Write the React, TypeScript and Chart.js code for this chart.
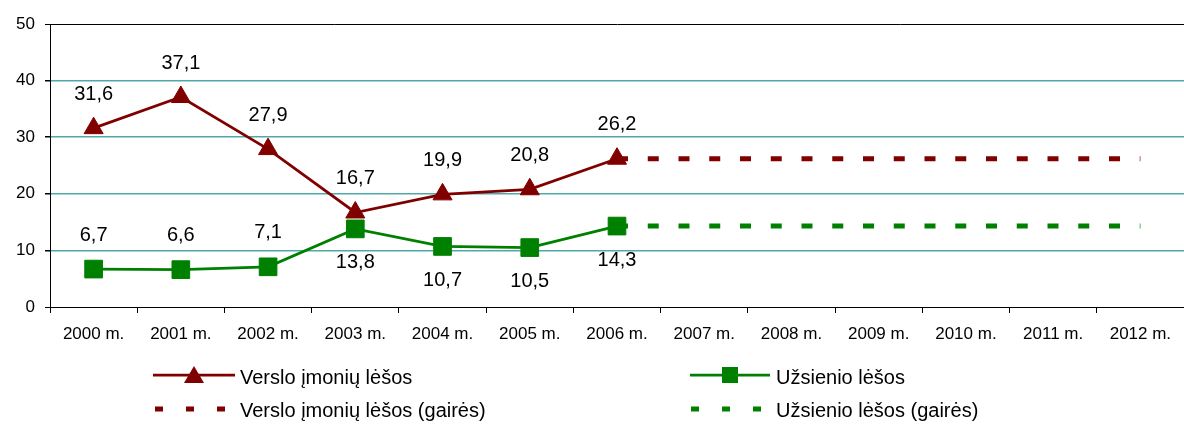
import React, { useEffect, useRef } from "react";
import { Chart, registerables } from "chart.js";

Chart.register(...registerables);

const categories = [
  "2000 m.", "2001 m.", "2002 m.", "2003 m.", "2004 m.", "2005 m.", "2006 m.",
  "2007 m.", "2008 m.", "2009 m.", "2010 m.", "2011 m.", "2012 m.",
];
const versloValues = [31.6, 37.1, 27.9, 16.7, 19.9, 20.8, 26.2, null, null, null, null, null, null];
const uzsienioValues = [6.7, 6.6, 7.1, 13.8, 10.7, 10.5, 14.3, null, null, null, null, null, null];
const versloGaires = [null, null, null, null, null, null, 26.2, 26.2, 26.2, 26.2, 26.2, 26.2, 26.2];
const uzsienioGaires = [null, null, null, null, null, null, 14.3, 14.3, 14.3, 14.3, 14.3, 14.3, 14.3];
const yTickValues = [0, 10, 20, 30, 40, 50];

const seriesNames = [
  "Verslo įmonių lėšos",
  "Užsienio lėšos",
  "Verslo įmonių lėšos (gairės)",
  "Užsienio lėšos (gairės)",
];

const RED = "#800000";
const GREEN = "#008000";
const GRID = "#4fa9a9";
const FONT = "'Liberation Sans', Arial, sans-serif";

const labelPlugin = {
  id: "valueLabels",
  afterDatasetsDraw(chart: any) {
    const ctx = chart.ctx;
    ctx.save();
    ctx.font = `20px ${FONT}`;
    ctx.fillStyle = "#000";
    ctx.textAlign = "center";
    ctx.textBaseline = "middle";
    chart.data.datasets.forEach((ds: any, di: number) => {
      if (!ds.labelPos) return;
      const meta = chart.getDatasetMeta(di);
      meta.data.forEach((el: any, i: number) => {
        const v = ds.data[i];
        if (v == null) return;
        const dy = ds.labelPos[i] === "below" ? 34 : -34;
        ctx.fillText(v.toFixed(1).replace(".", ","), el.x, el.y + dy);
      });
    });
    ctx.restore();
  },
};

const isFrame = (c: any) => c.tick && (c.tick.value === 50 || c.tick.value === 0);

function ChartCanvas() {
  const ref = useRef<HTMLCanvasElement | null>(null);
  useEffect(() => {
    if (!ref.current) return;
    const chart = new Chart(ref.current, {
      type: "line",
      data: {
        labels: categories,
        datasets: [
          {
            label: seriesNames[0],
            data: versloValues,
            borderColor: RED,
            backgroundColor: RED,
            borderWidth: 2.75,
            pointStyle: "triangle",
            pointRadius: 11,
            pointBorderWidth: 1,
            pointBorderColor: RED,
            pointBackgroundColor: RED,
            tension: 0,
            spanGaps: false,
            labelPos: ["above", "above", "above", "above", "above", "above", "above"],
          } as any,
          {
            label: seriesNames[1],
            data: uzsienioValues,
            borderColor: GREEN,
            backgroundColor: GREEN,
            borderWidth: 2.75,
            pointStyle: "rect",
            pointRadius: 12.5,
            pointBorderWidth: 1,
            pointBorderColor: GREEN,
            pointBackgroundColor: GREEN,
            tension: 0,
            labelPos: ["above", "above", "above", "below", "below", "below", "below"],
          } as any,
          {
            label: seriesNames[2],
            data: versloGaires,
            borderColor: RED,
            borderWidth: 5,
            borderDash: [11, 19.75],
            borderCapStyle: "butt",
            pointRadius: 0,
            tension: 0,
          },
          {
            label: seriesNames[3],
            data: uzsienioGaires,
            borderColor: GREEN,
            borderWidth: 5,
            borderDash: [11, 19.75],
            borderCapStyle: "butt",
            pointRadius: 0,
            tension: 0,
          },
        ],
      },
      options: {
        animation: false,
        responsive: false,
        events: [],
        layout: { autoPadding: false, padding: { top: 24, left: 0, right: 0, bottom: 0 } },
        plugins: {
          legend: { display: false },
          tooltip: { enabled: false },
        },
        scales: {
          x: {
            offset: true,
            grid: {
              offset: true,
              drawOnChartArea: false,
              drawTicks: true,
              tickLength: 6,
              tickColor: "#000",
            },
            border: { display: true, color: "#000", width: 1, z: 1 },
            ticks: {
              color: "#000",
              font: { family: FONT, size: 17 },
              padding: 11,
              maxRotation: 0,
              autoSkip: false,
            },
            afterFit(scale: any) {
              scale.height = 43;
              scale.paddingLeft = 0;
              scale.paddingRight = 0;
            },
          },
          y: {
            min: 0,
            max: 50,
            afterBuildTicks(scale: any) {
              scale.ticks = yTickValues.map((v) => ({ value: v }));
            },
            grid: {
              color: (c: any) => (isFrame(c) ? "#000" : GRID),
              lineWidth: (c: any) => (isFrame(c) ? 1 : 1.5),
              drawTicks: true,
              tickLength: 5,
              tickColor: "#000",
            },
            border: { display: true, color: "#000", width: 1 },
            ticks: {
              color: "#000",
              font: { family: FONT, size: 17 },
              padding: 10,
            },
            afterFit(scale: any) {
              scale.width = 50;
            },
          },
        },
      },
      plugins: [labelPlugin],
    });
    return () => chart.destroy();
  }, []);
  return <canvas ref={ref} width={1184} height={350} style={{ display: "block" }} />;
}

const textStyle = (left: number, cy: number): React.CSSProperties => ({
  position: "absolute",
  left,
  top: cy - 12,
  height: 24,
  lineHeight: "24px",
  fontSize: 20,
  fontFamily: FONT,
  color: "#000",
  whiteSpace: "nowrap",
});

export default function App() {
  return (
    <div style={{ position: "absolute", left: 0, top: 0, width: 1184, height: 424, background: "#fff", overflow: "hidden" }}>
      <ChartCanvas />
      <svg width={1184} height={424} style={{ position: "absolute", left: 0, top: 0, pointerEvents: "none" }}>
        <line x1={153} y1={375} x2={235} y2={375} stroke={RED} strokeWidth={2.75} />
        <polygon points="194,366 204,383 184,383" fill={RED} />
        <line x1={690} y1={375} x2={770} y2={375} stroke={GREEN} strokeWidth={2.75} />
        <rect x={722} y={367} width={16} height={16} fill={GREEN} />
        <line x1={155} y1={409} x2={230} y2={409} stroke={RED} strokeWidth={5} strokeDasharray="8 23" />
        <line x1={691} y1={409} x2={766} y2={409} stroke={GREEN} strokeWidth={5} strokeDasharray="8 23" />
      </svg>
      <div style={textStyle(240, 377)}>{seriesNames[0]}</div>
      <div style={textStyle(776, 377)}>{seriesNames[1]}</div>
      <div style={textStyle(240, 410)}>{seriesNames[2]}</div>
      <div style={textStyle(776, 410)}>{seriesNames[3]}</div>
    </div>
  );
}
